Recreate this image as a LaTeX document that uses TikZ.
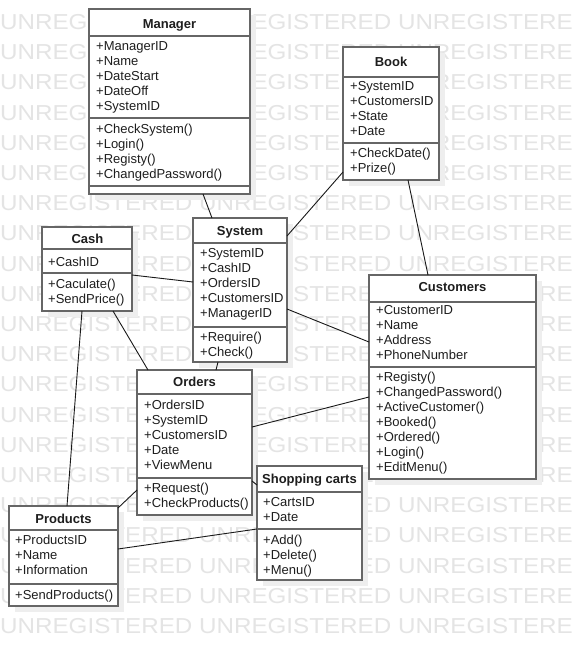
\documentclass[tikz,border=0pt]{standalone}
\usepackage{fontspec}
\setmainfont{Liberation Sans}
\newfontfamily\wmfont[FakeStretch=1.12]{Liberation Sans}
\usetikzlibrary{shadows,calc}
\definecolor{bordercol}{RGB}{102,102,102}
\definecolor{shadowcol}{RGB}{238,238,238}
\definecolor{wmcol}{RGB}{228,228,228}
\definecolor{txtcol}{RGB}{30,30,30}
\definecolor{conncol}{RGB}{25,25,25}
\newcommand\clsitems[4]{%
  \foreach \t [count=\i from 1] in {#4}
    \node[itm] (#1\i) at (#2,{#3+15*(\i-1)}) {\t};}
\newcommand\clssep[2]{%
  \draw[sepl] ([yshift=-#2pt]#1.north west) -- ([yshift=-#2pt]#1.north east);}
\begin{document}
\begin{tikzpicture}[x=1pt,y=-1pt,
  cls/.style={draw=bordercol, line width=1.5pt, fill=white, inner sep=0pt, outer sep=0pt,
    anchor=north west,
    drop shadow={shadow xshift=6pt, shadow yshift=-6pt, fill=shadowcol, opacity=1}},
  ttl/.style={font=\fontsize{13}{15}\selectfont\bfseries, text=txtcol, anchor=base, inner sep=0pt},
  itm/.style={font=\fontsize{13}{15}\selectfont, text=txtcol, anchor=base west, inner sep=0pt},
  sepl/.style={draw=bordercol, line width=1.5pt},
  conn/.style={draw=conncol, line width=0.9pt},
  wm/.style={font=\wmfont\fontsize{21.6}{22}\selectfont, text=wmcol, anchor=west, inner sep=0pt}
]
\useasboundingbox[fill=white] (0,0) rectangle (575,646);

% watermark
\foreach \k in {0,...,20}
  \node[wm] (wm\k) at (0,{22+30.2*\k}) {UNREGISTERED UNREGISTERED UNREGISTERE};

% Manager
\node[cls, minimum width=161pt, minimum height=185pt] (manager) at (89,9) {};
\clssep{manager}{27}\clssep{manager}{109}\clssep{manager}{177}
\node[ttl] (manager-t) at (169.5,28) {Manager};
\clsitems{manager-a}{96}{50}{+ManagerID,+Name,+DateStart,+DateOff,+SystemID}
\clsitems{manager-m}{96}{133}{+CheckSystem(),+Login(),+Registy(),+ChangedPassword()}

% Book
\node[cls, minimum width=96pt, minimum height=133pt] (book) at (343,47) {};
\clssep{book}{30}\clssep{book}{96}
\node[ttl] (book-t) at (391,66.5) {Book};
\clsitems{book-a}{350}{90.5}{+SystemID,+CustomersID,+State,+Date}
\clsitems{book-m}{350}{157.5}{+CheckDate(),+Prize()}

% System
\node[cls, minimum width=94pt, minimum height=144pt] (system) at (193,218) {};
\clssep{system}{25}\clssep{system}{109}
\node[ttl] (system-t) at (240,235.3) {System};
\clsitems{system-a}{200}{257.5}{+SystemID,+CashID,+OrdersID,+CustomersID,+ManagerID}
\clsitems{system-m}{200}{341.5}{+Require(),+Check()}

% Cash
\node[cls, minimum width=90pt, minimum height=84pt] (cash) at (42,227) {};
\clssep{cash}{22}\clssep{cash}{46}
\node[ttl] (cash-t) at (87.5,243) {Cash};
\clsitems{cash-a}{48}{266.5}{+CashID}
\clsitems{cash-m}{48}{288}{+Caculate(),+SendPrice()}

% Customers
\node[cls, minimum width=167pt, minimum height=204pt] (customers) at (369,275) {};
\clssep{customers}{27}\clssep{customers}{92}
\node[ttl] (customers-t) at (452.5,291.3) {Customers};
\clsitems{customers-a}{376}{314.5}{+CustomerID,+Name,+Address,+PhoneNumber}
\clsitems{customers-m}{376}{381.8}{+Registy(),+ChangedPassword(),+ActiveCustomer(),+Booked(),+Ordered(),+Login(),+EditMenu()}

% Orders
\node[cls, minimum width=115pt, minimum height=145pt] (orders) at (137,370) {};
\clssep{orders}{24}\clssep{orders}{108}
\node[ttl] (orders-t) at (194.5,386.3) {Orders};
\clsitems{orders-a}{144}{409.5}{+OrdersID,+SystemID,+CustomersID,+Date,+ViewMenu}
\clsitems{orders-m}{144}{492.5}{+Request(),+CheckProducts()}

% Shopping carts
\node[cls, minimum width=105pt, minimum height=114pt] (carts) at (257,466) {};
\clssep{carts}{26}\clssep{carts}{63}
\node[ttl] (carts-t) at (309.5,483) {Shopping carts};
\clsitems{carts-a}{263}{506.5}{+CartsID,+Date}
\clsitems{carts-m}{263}{544.5}{+Add(),+Delete(),+Menu()}

% Products
\node[cls, minimum width=109pt, minimum height=100pt] (products) at (9,506) {};
\clssep{products}{24}\clssep{products}{78}
\node[ttl] (products-t) at (63.5,523) {Products};
\clsitems{products-a}{15}{544}{+ProductsID,+Name,+Information}
\clsitems{products-m}{15}{599}{+SendProducts()}

% connectors
\draw[conn] ([xshift=114pt]manager.south west) -- ([xshift=19pt]system.north west);
\draw[conn] ([yshift=8pt]book.south west) -- ([yshift=-18pt]system.north east);
\draw[conn] ([xshift=65pt]book.south west) -- ([xshift=59pt]customers.north west);
\draw[conn] ([yshift=-48pt]cash.north east) -- ([yshift=-64pt]system.north west);
\draw[conn] ([yshift=-91pt]system.north east) -- ([yshift=-67pt]customers.north west);
\draw[conn] ([xshift=71pt]cash.south west) -- ([xshift=11pt]orders.north west);
\draw[conn] ([xshift=25pt]system.south west) -- ([xshift=79pt]orders.north west);
\draw[conn] ([xshift=40pt]cash.south west) -- ([xshift=58pt]products.north west);
\draw[conn] ([yshift=-57pt]orders.north east) -- ([yshift=-122pt]customers.north west);
\draw[conn] ([yshift=-120pt]orders.north west) -- ([yshift=-2pt]products.north east);
\draw[conn] ([yshift=-111pt]orders.north east) -- ([yshift=-19pt]carts.north west);
\draw[conn] ([yshift=-43pt]products.north east) -- ([yshift=-63pt]carts.north west);
\end{tikzpicture}
\end{document}
